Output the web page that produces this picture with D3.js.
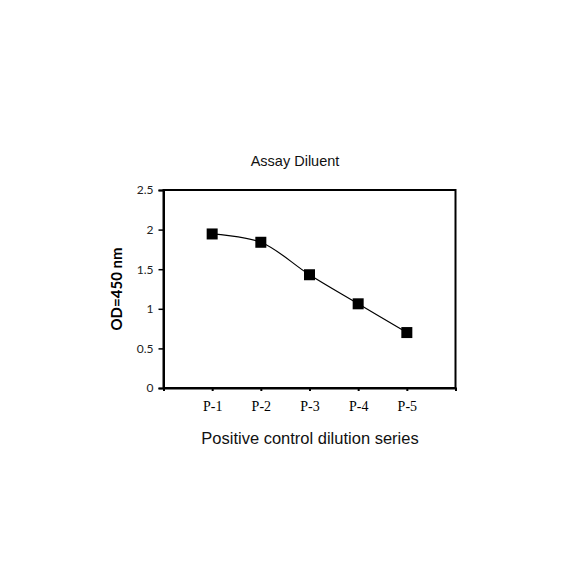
<!DOCTYPE html>
<html><head><meta charset="utf-8">
<script src="https://cdn.jsdelivr.net/npm/d3@7"></script>
<style>body{margin:0;background:#fff}</style>
</head><body>
<svg id="c" width="584" height="584"></svg>
<script>
const categories = ["P-1","P-2","P-3","P-4","P-5"];
const values = [1.945, 1.84, 1.43, 1.063, 0.70];
const yTicks = [0, 0.5, 1, 1.5, 2, 2.5];
const yTickLabels = ["0","0.5","1","1.5","2","2.5"];
const title = "Assay Diluent";
const xTitle = "Positive control dilution series";
const yTitle = "OD=450 nm";

const svg = d3.select("#c");
const L = 163.5, R = 455.5, T = 190, B = 388;
const x = d3.scaleLinear().domain([0, categories.length + 1]).range([L, R]);
const y = d3.scaleLinear().domain([0, 2.5]).range([B, T]);

// frame
svg.append("rect").attr("x", L).attr("y", T).attr("width", R - L).attr("height", B - T)
  .attr("fill", "none").attr("stroke", "#000").attr("stroke-width", 2);

// y axis
const yAxis = d3.axisLeft(y).tickValues(yTicks).tickFormat((d,i)=>yTickLabels[i]).tickSize(5).tickPadding(5);
const gy = svg.append("g").attr("transform", `translate(${L},0)`).call(yAxis);
gy.select(".domain").attr("stroke-width", 2);
gy.selectAll(".tick line").attr("stroke-width", 1.5);
gy.selectAll("text").attr("font-family", "Lato, 'Open Sans', sans-serif").attr("font-size", 12).attr("fill", "#222");

// x axis
const xt = d3.range(0, categories.length + 2);
const xAxis = d3.axisBottom(x).tickValues(xt).tickFormat(d => (d >= 1 && d <= categories.length) ? categories[d-1] : "").tickSize(3).tickPadding(10);
const gx = svg.append("g").attr("transform", `translate(0,${B})`).call(xAxis);
gx.select(".domain").attr("stroke-width", 2);
gx.selectAll(".tick line").attr("stroke-width", 2);
gx.selectAll("text").attr("font-family", "'Liberation Serif', 'Times New Roman', serif").attr("font-size", 14).attr("fill", "#000");

// line
const pts = values.map((v, i) => [x(i + 1), y(v)]);
svg.append("path").attr("d", d3.line().curve(d3.curveCatmullRom.alpha(0.5))(pts))
  .attr("fill", "none").attr("stroke", "#000").attr("stroke-width", 1.2);

// markers
const s = 11;
svg.selectAll("rect.m").data(values).enter().append("rect").attr("class", "m")
  .attr("x", (d, i) => x(i + 1) - s/2).attr("y", d => y(d) - s/2)
  .attr("width", s).attr("height", s).attr("fill", "#000");

// titles
svg.append("text").attr("x", 295).attr("y", 166).attr("text-anchor", "middle")
  .attr("font-family", "'Liberation Sans', Arial, sans-serif").attr("font-size", 14.5).attr("fill", "#111").text(title);
svg.append("text").attr("x", 310).attr("y", 444).attr("text-anchor", "middle")
  .attr("font-family", "'Liberation Sans', Arial, sans-serif").attr("font-size", 16.5).attr("fill", "#111").text(xTitle);
svg.append("text").attr("transform", "translate(122,289) rotate(-90)").attr("text-anchor", "middle")
  .attr("font-family", "Lato, 'Open Sans', sans-serif").attr("font-weight", "bold").attr("font-size", 15).text(yTitle);
</script>
</body></html>
